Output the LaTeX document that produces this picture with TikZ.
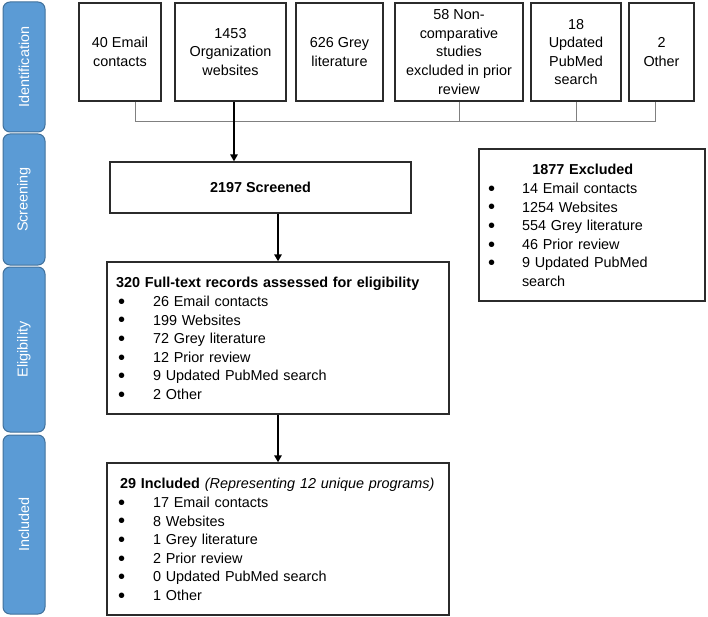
\documentclass[tikz,border=0pt]{standalone}
\usepackage{fontspec}
\setmainfont{Liberation Sans}
\usetikzlibrary{arrows.meta,calc}
\definecolor{tabfill}{HTML}{5B9BD5}
\definecolor{tabdraw}{HTML}{41719C}
\definecolor{boxdraw}{HTML}{2B2B2B}
\definecolor{busgray}{HTML}{808080}
\newcommand{\bigbul}{\raisebox{-1.8pt}{\scalebox{1.4}{\textbullet}}}
\newcommand{\topgap}{\rule{0pt}{17pt}}
\begin{document}
\begin{tikzpicture}[x=1pt,y=-1pt,
  every node/.style={font=\fontsize{14.4}{18.6}\selectfont},
  phase/.style={draw=tabdraw,fill=tabfill,line width=1pt,rounded corners=7pt,minimum width=42pt,inner sep=0pt},
  phasetext/.style={text=white,rotate=90},
  srcbox/.style={draw=boxdraw,line width=1.3pt,align=center,inner sep=2pt},
  listbox/.style={draw=boxdraw,line width=1.3pt,align=left,inner sep=9pt},
  busline/.style={draw=busgray,line width=0.9pt},
  arr/.style={draw=black,line width=1.5pt,-{Triangle[length=7pt,width=7.5pt]}}
]
\useasboundingbox (0,0) rectangle (708,617);

% phase tabs
\node[phase,minimum height=130pt] (tid) at (24,67) {};
\node[phasetext] (tidt) at (tid.center) {Identification};
\node[phase,minimum height=131pt] (tsc) at (24,199.5) {};
\node[phasetext] (tsct) at (tsc.center) {Screening};
\node[phase,minimum height=165pt] (tel) at (24,349.5) {};
\node[phasetext] (telt) at (tel.center) {Eligibility};
\node[phase,minimum height=179pt] (tin) at (24,524.5) {};
\node[phasetext] (tint) at (tin.center) {Included};

% source boxes
\node[srcbox,minimum width=82pt,minimum height=98pt] (b1) at (120,52) {40 Email\\contacts};
\node[srcbox,minimum width=111pt,minimum height=98pt] (b2) at (230.5,52) {1453\\Organization\\websites};
\node[srcbox,minimum width=87pt,minimum height=98pt] (b3) at (339.5,52) {626 Grey\\literature};
\node[srcbox,minimum width=128pt,minimum height=98pt] (b4) at (459,52) {58 Non-\\comparative\\studies\\excluded in prior\\review};
\node[srcbox,minimum width=90pt,minimum height=98pt] (b5) at (576,52) {18\\Updated\\PubMed\\search};
\node[srcbox,minimum width=65pt,minimum height=98pt] (b6) at (661.5,52) {2\\Other};

% screened
\node[srcbox,minimum width=301pt,minimum height=51pt,font=\fontsize{14.4}{18.6}\selectfont\bfseries] (scr) at (260.5,187.5) {2197 Screened};

% eligibility
\node[listbox,text width=324pt,minimum height=150pt] (elig) at (278,338) {%
\begin{tabular}{@{}p{37pt}@{}l@{}}
\multicolumn{2}{@{}l@{}}{\topgap\bfseries 320 Full-text records assessed for eligibility}\\
\hspace{2pt}\bigbul & 26 Email contacts\\
\hspace{2pt}\bigbul & 199 Websites\\
\hspace{2pt}\bigbul & 72 Grey literature\\
\hspace{2pt}\bigbul & 12 Prior review\\
\hspace{2pt}\bigbul & 9 Updated PubMed search\\
\hspace{2pt}\bigbul & 2 Other
\end{tabular}};

% included
\node[listbox,text width=324pt,minimum height=150pt] (incl) at (278,539) {%
\begin{tabular}{@{}p{37pt}@{}l@{}}
\multicolumn{2}{@{}l@{}}{\topgap\hspace{4pt}\bfseries 29 Included \mdseries\itshape (Representing 12 unique programs)}\\
\hspace{2pt}\bigbul & 17 Email contacts\\
\hspace{2pt}\bigbul & 8 Websites\\
\hspace{2pt}\bigbul & 1 Grey literature\\
\hspace{2pt}\bigbul & 2 Prior review\\
\hspace{2pt}\bigbul & 0 Updated PubMed search\\
\hspace{2pt}\bigbul & 1 Other
\end{tabular}};

% excluded
\node[listbox,text width=208pt,minimum height=146pt] (excl) at (592,225) {%
\begin{tabular}{@{}p{34pt}@{}l@{}}
\multicolumn{2}{@{}c@{}}{\topgap\hspace{30pt}\bfseries 1877 Excluded}\\
\bigbul & 14 Email contacts\\
\bigbul & 1254 Websites\\
\bigbul & 554 Grey literature\\
\bigbul & 46 Prior review\\
\bigbul & 9 Updated PubMed\\
 & search
\end{tabular}};

% bus connectors
\coordinate (bus) at (0,121);
\draw[busline] ([xshift=15pt]b1.south) -- ([xshift=15pt]b1.south |- bus) -- ([xshift=-6.5pt]b6.south |- bus) -- ([xshift=-6.5pt]b6.south);
\draw[busline] (b4.south) -- (b4.south |- bus);
\draw[busline] (b5.south) -- (b5.south |- bus);

% arrows
\draw[arr] ([xshift=3.5pt]b2.south) -- ([xshift=3.5pt]b2.south |- scr.north);
\draw[arr] (scr.south -| elig.north) -- (elig.north);
\draw[arr] (elig.south) -- (incl.north);
\end{tikzpicture}
\end{document}
